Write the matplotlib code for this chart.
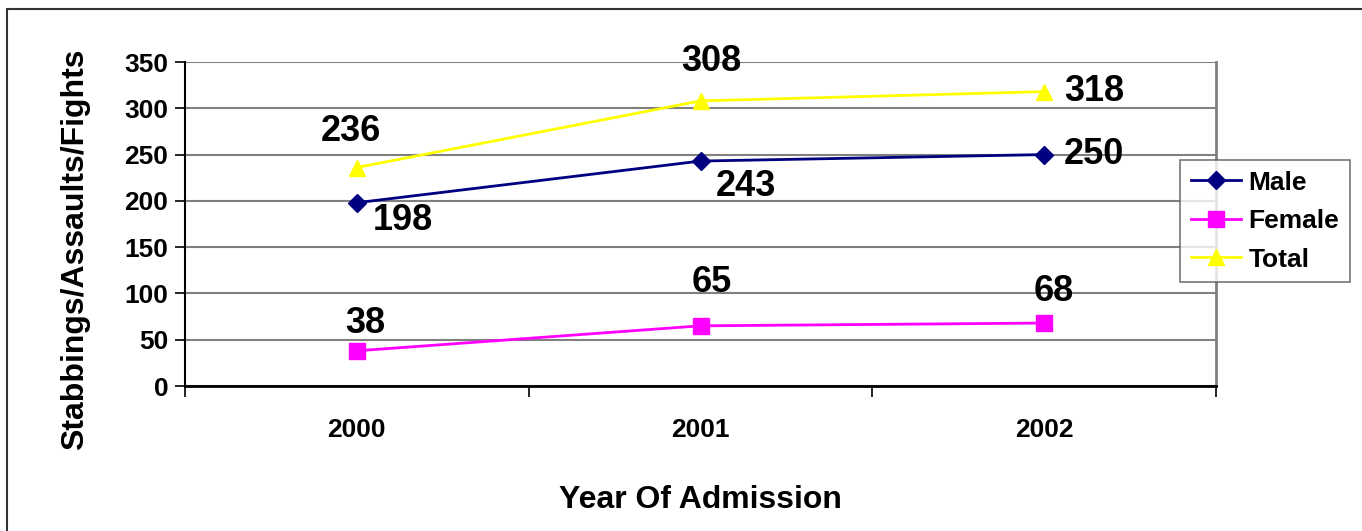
import matplotlib
matplotlib.use("Agg")

import numpy as np
import matplotlib.pyplot as plt

years = ["2000", "2001", "2002"]
male = [198, 243, 250]
female = [38, 65, 68]
total = [236, 308, 318]

plt.rcParams['font.family'] = ['Liberation Sans', 'DejaVu Sans']
plt.rcParams['font.weight'] = 'bold'

fig = plt.figure(figsize=(13.62, 5.31), dpi=100)
ax = fig.add_axes([185 / 1362, 1 - 386 / 531, (1216 - 185) / 1362, (386 - 62) / 531])

# outer chart frame (cropped at right/bottom in the reference)
frame = plt.Rectangle((7 / 1362, -0.1), 1.2, 1 - 9 / 531 + 0.1, transform=fig.transFigure,
                      fill=False, edgecolor='#333333', lw=1.5)
fig.patches.append(frame)

x = np.arange(len(years))
ax.plot(x, male, color='#000080', marker='D', markersize=9, lw=2, label='Male')
ax.plot(x, female, color='#FF00FF', marker='s', markersize=11, lw=2, label='Female')
ax.plot(x, total, color='#FFFF00', marker='^', markersize=12, lw=2, label='Total')

ax.set_xlim(-0.5, 2.5)
ax.set_ylim(0, 350)
ax.set_yticks(range(0, 351, 50))
ax.set_xticks(x)
ax.set_xticklabels(years)
ax.set_xticks([-0.5, 0.5, 1.5, 2.5], minor=True)
ax.tick_params(axis='x', which='major', length=0, pad=23, labelsize=19)
ax.tick_params(axis='x', which='minor', length=8, direction='out', width=1.2)
ax.tick_params(axis='y', length=7, width=1.2, labelsize=19, pad=5)
ax.grid(axis='y', color='#808080', lw=1.5)
ax.set_axisbelow(True)
for s in ['top', 'right']:
    ax.spines[s].set_color('#808080')
    ax.spines[s].set_linewidth(2)
ax.spines['left'].set_linewidth(1.5)
ax.spines['bottom'].set_linewidth(2)
ax.spines['top'].set_visible(False)

lab_kw = dict(fontsize=26, fontweight='bold', textcoords='offset points')
# Total labels
ax.annotate(str(total[0]), (x[0], total[0]), xytext=(-4, 26), ha='center', va='center', **lab_kw)
ax.annotate(str(total[1]), (x[1], total[1]), xytext=(8, 28), ha='center', va='center', **lab_kw)
ax.annotate(str(total[2]), (x[2], total[2]), xytext=(36, 0), ha='center', va='center', **lab_kw)
# Male labels
ax.annotate(str(male[0]), (x[0], male[0]), xytext=(33, -13), ha='center', va='center', **lab_kw)
ax.annotate(str(male[1]), (x[1], male[1]), xytext=(33, -18), ha='center', va='center', **lab_kw)
ax.annotate(str(male[2]), (x[2], male[2]), xytext=(36, 0), ha='center', va='center', **lab_kw)
# Female labels
ax.annotate(str(female[0]), (x[0], female[0]), xytext=(6, 20), ha='center', va='center', **lab_kw)
ax.annotate(str(female[1]), (x[1], female[1]), xytext=(8, 31), ha='center', va='center', **lab_kw)
ax.annotate(str(female[2]), (x[2], female[2]), xytext=(7, 23), ha='center', va='center', **lab_kw)

ax.set_ylabel("Stabbings/Assaults/Fights", fontsize=23, fontweight='bold', va='center')
ax.yaxis.set_label_coords(-0.107, 0.423)
ax.set_xlabel("Year Of Admission", fontsize=23, fontweight='bold', labelpad=31)

leg = ax.legend(loc='upper left', bbox_to_anchor=(1180 / 1362, 1 - 160 / 531),
                bbox_transform=fig.transFigure, fontsize=19, frameon=True, fancybox=False,
                edgecolor='#555555', handlelength=1.9, borderpad=0.4, labelspacing=0.55,
                handletextpad=0.3, borderaxespad=0)
leg.get_frame().set_linewidth(1.2)
for t in leg.get_texts():
    t.set_fontweight('bold')

fig.savefig("out.png", dpi=100)
